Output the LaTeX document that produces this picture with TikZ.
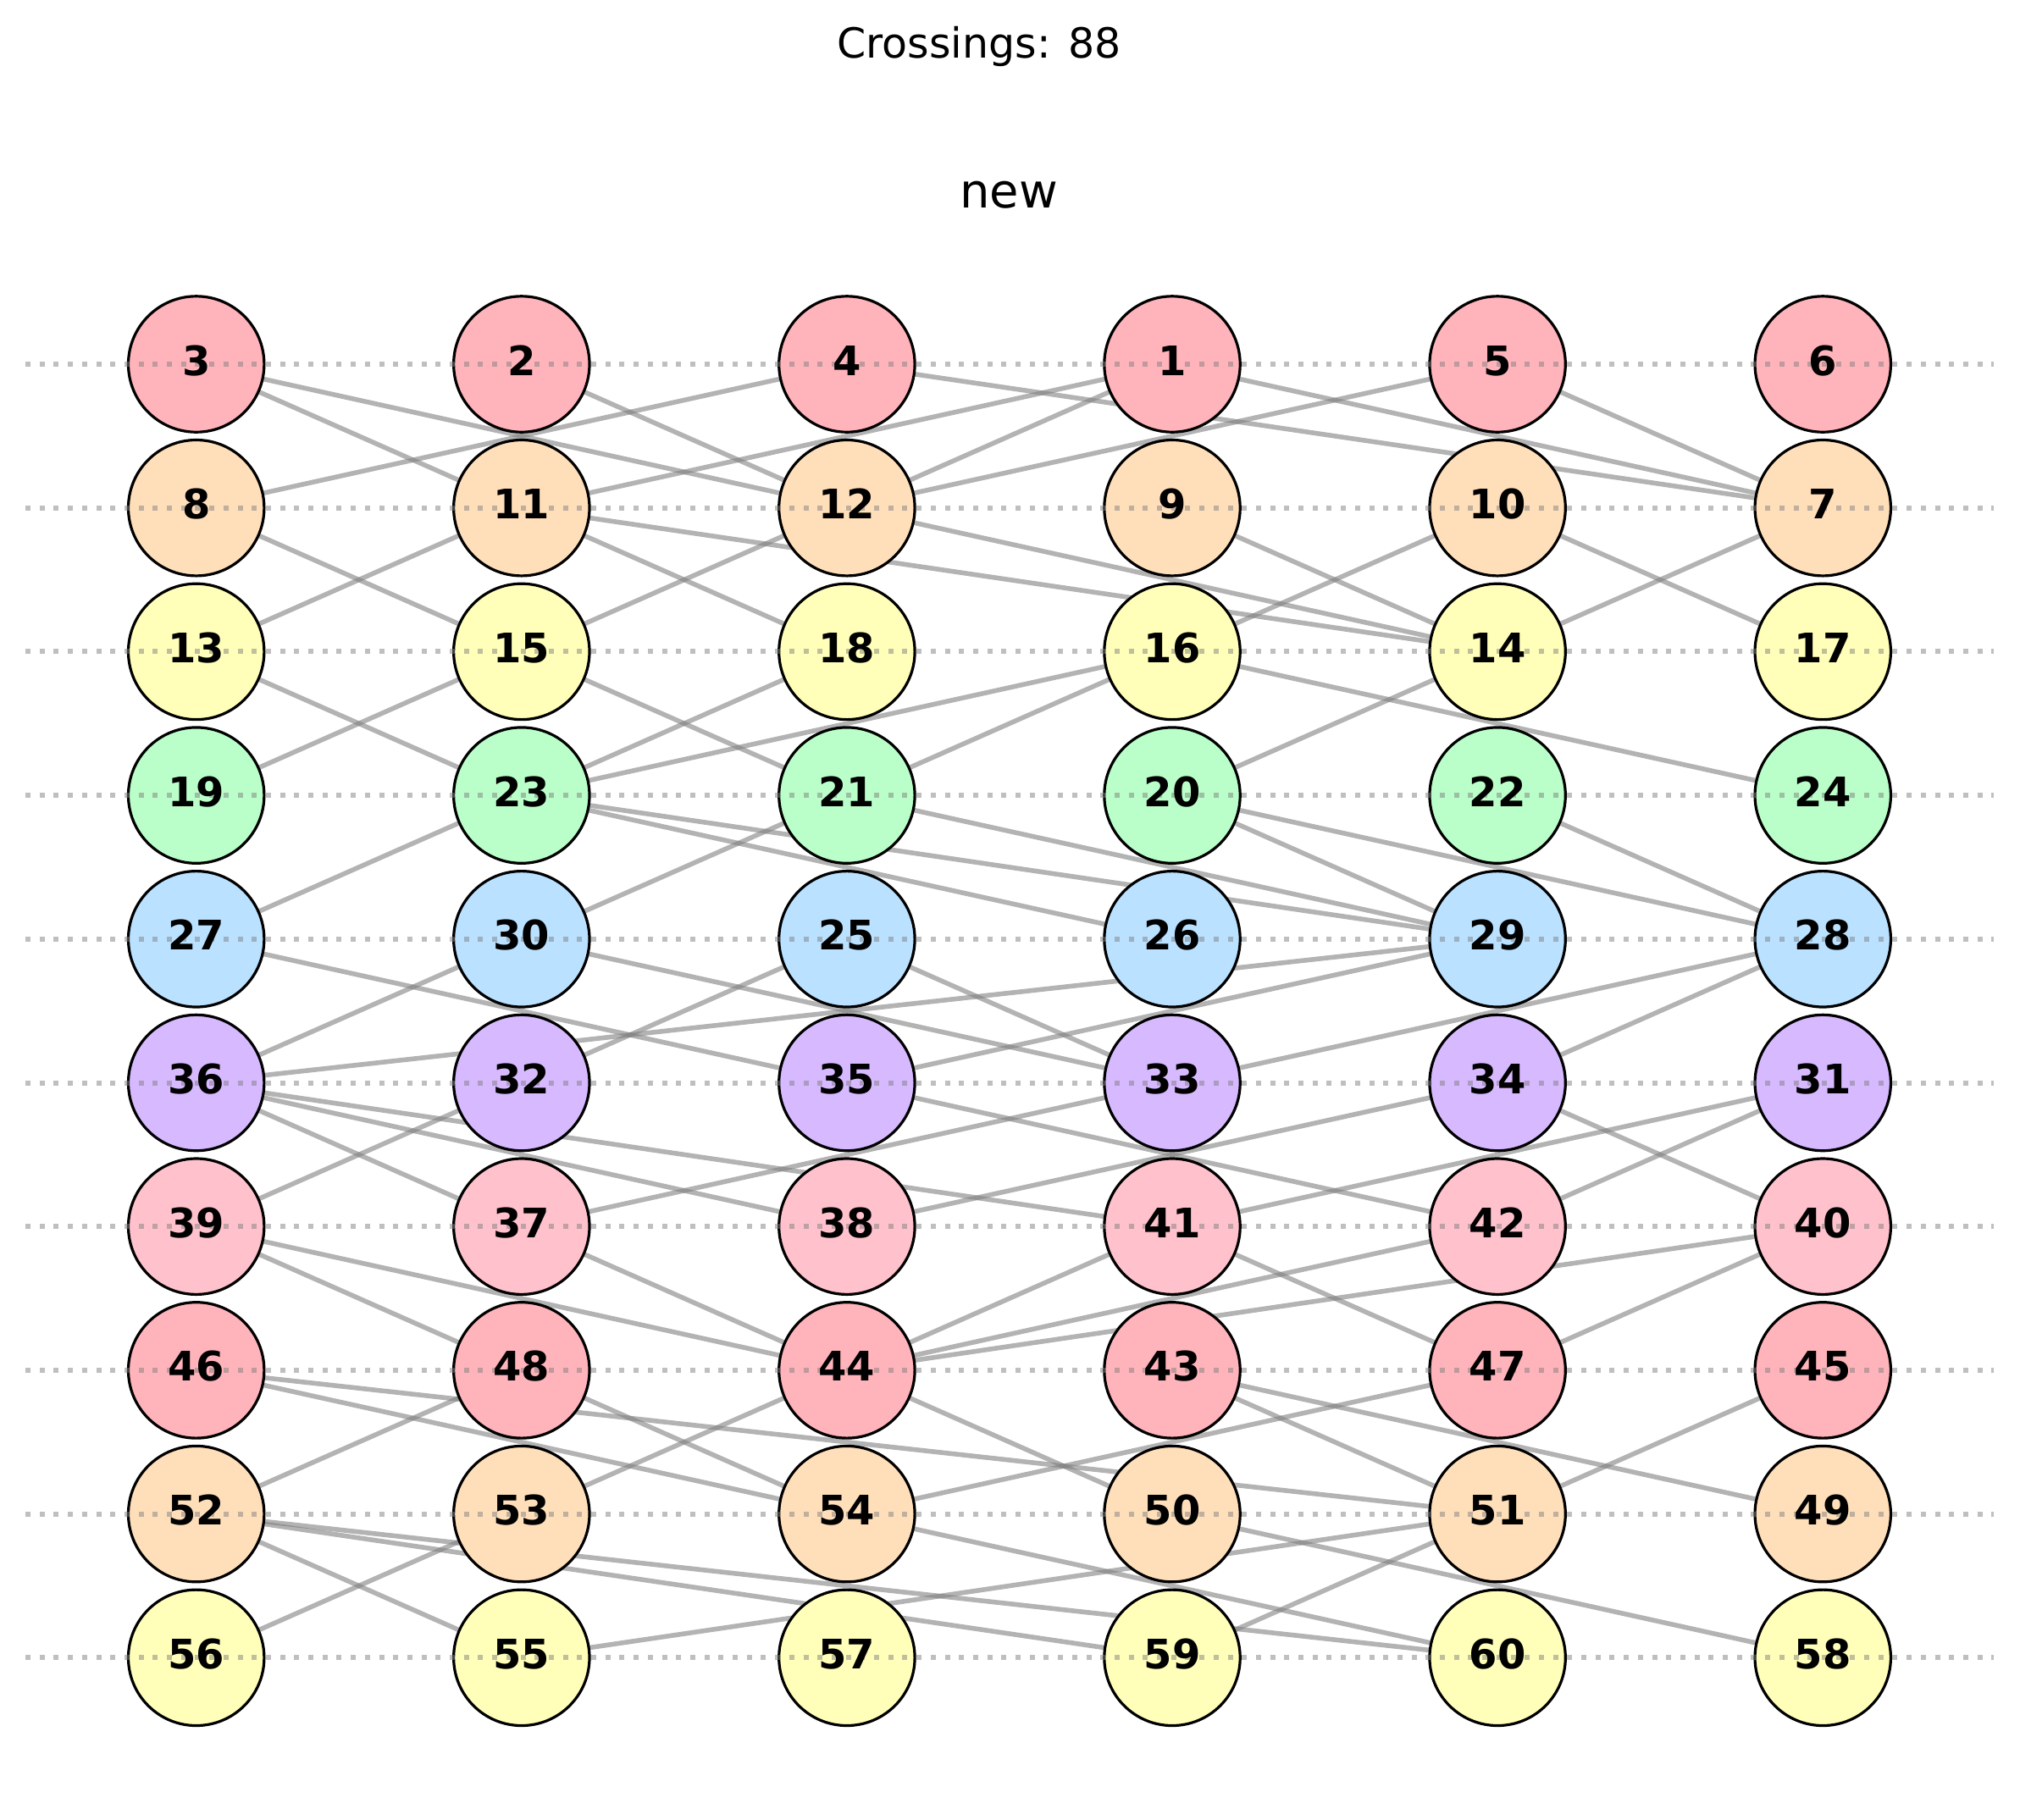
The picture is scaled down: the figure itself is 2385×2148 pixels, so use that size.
\documentclass[tikz,border=0pt]{standalone}
\usepackage{fontspec}
\setmainfont{DejaVu Sans}
\definecolor{cR}{HTML}{FFB3BA}
\definecolor{cO}{HTML}{FFDFBA}
\definecolor{cY}{HTML}{FFFFBA}
\definecolor{cG}{HTML}{BAFFC9}
\definecolor{cB}{HTML}{BAE1FF}
\definecolor{cP}{HTML}{D7B9FF}
\definecolor{cK}{HTML}{FFC1CC}
\definecolor{lgray}{RGB}{128,128,128}
\pgfdeclarelayer{bg}
\pgfdeclarelayer{fg}
\pgfsetlayers{bg,main,fg}
\begin{document}
\begin{tikzpicture}[x=0.5pt,y=-0.5pt,
  vtx/.style={circle,draw=black,line width=1.6pt,minimum size=80.2pt,inner sep=0pt},
  lbl/.style={anchor=base,font=\fontsize{24}{28}\selectfont\bfseries,inner sep=0pt},
  edge/.style={draw=lgray,opacity=0.6,line width=2.8pt},
  guide/.style={draw=lgray,opacity=0.5,line width=3pt,dash pattern=on 3pt off 5.35pt}]
\useasboundingbox (0,0) rectangle (2385,2148);
\node[anchor=base,font=\fontsize{24.5}{29}\selectfont] (title) at (1156,68) {Crossings: 88};
\node[anchor=base,font=\fontsize{28}{33}\selectfont] (subtitle) at (1191,245) {new};
\foreach \r/\c/\L in {0/cR/{3,2,4,1,5,6},1/cO/{8,11,12,9,10,7},2/cY/{13,15,18,16,14,17},
  3/cG/{19,23,21,20,22,24},4/cB/{27,30,25,26,29,28},5/cP/{36,32,35,33,34,31},
  6/cK/{39,37,38,41,42,40},7/cR/{46,48,44,43,47,45},8/cO/{52,53,54,50,51,49},
  9/cY/{56,55,57,59,60,58}}{
  \foreach \n [count=\i from 0] in \L {
    \node[vtx,fill=\c] (n\n) at ({231.7+384.1*\i},{430+169.7*\r}) {};
  }
}
\begin{pgfonlayer}{bg}
\foreach \a/\b in {3/11,3/12,2/12,8/4,11/1,12/1,12/5,4/7,1/7,5/7,
  8/15,13/11,11/18,15/12,11/14,12/14,9/14,10/16,10/17,14/7,
  13/23,19/15,15/21,23/18,23/16,21/16,16/24,20/14,
  27/23,30/21,23/26,23/29,21/29,20/29,20/28,22/28,
  27/35,30/33,25/33,36/30,32/25,36/29,35/29,33/28,34/28,
  36/37,36/38,36/41,39/32,37/33,35/42,38/34,41/31,34/40,42/31,
  39/48,39/44,37/44,44/41,44/42,44/40,41/47,47/40,
  46/51,46/54,52/48,48/54,53/44,44/50,43/51,43/49,54/47,51/45,
  52/55,52/59,52/60,56/53,55/51,54/60,59/51,50/58}
  \draw[edge] (n\a.center) -- (n\b.center);
\end{pgfonlayer}
\foreach \r in {0,...,9}
  \draw[guide] (30,{430+169.7*\r}) -- (2354,{430+169.7*\r});
\begin{pgfonlayer}{fg}
\foreach \n in {1,...,60}
  \node[lbl] at ([yshift=-6.5pt]n\n.center) {\n};
\end{pgfonlayer}
\end{tikzpicture}
\end{document}
